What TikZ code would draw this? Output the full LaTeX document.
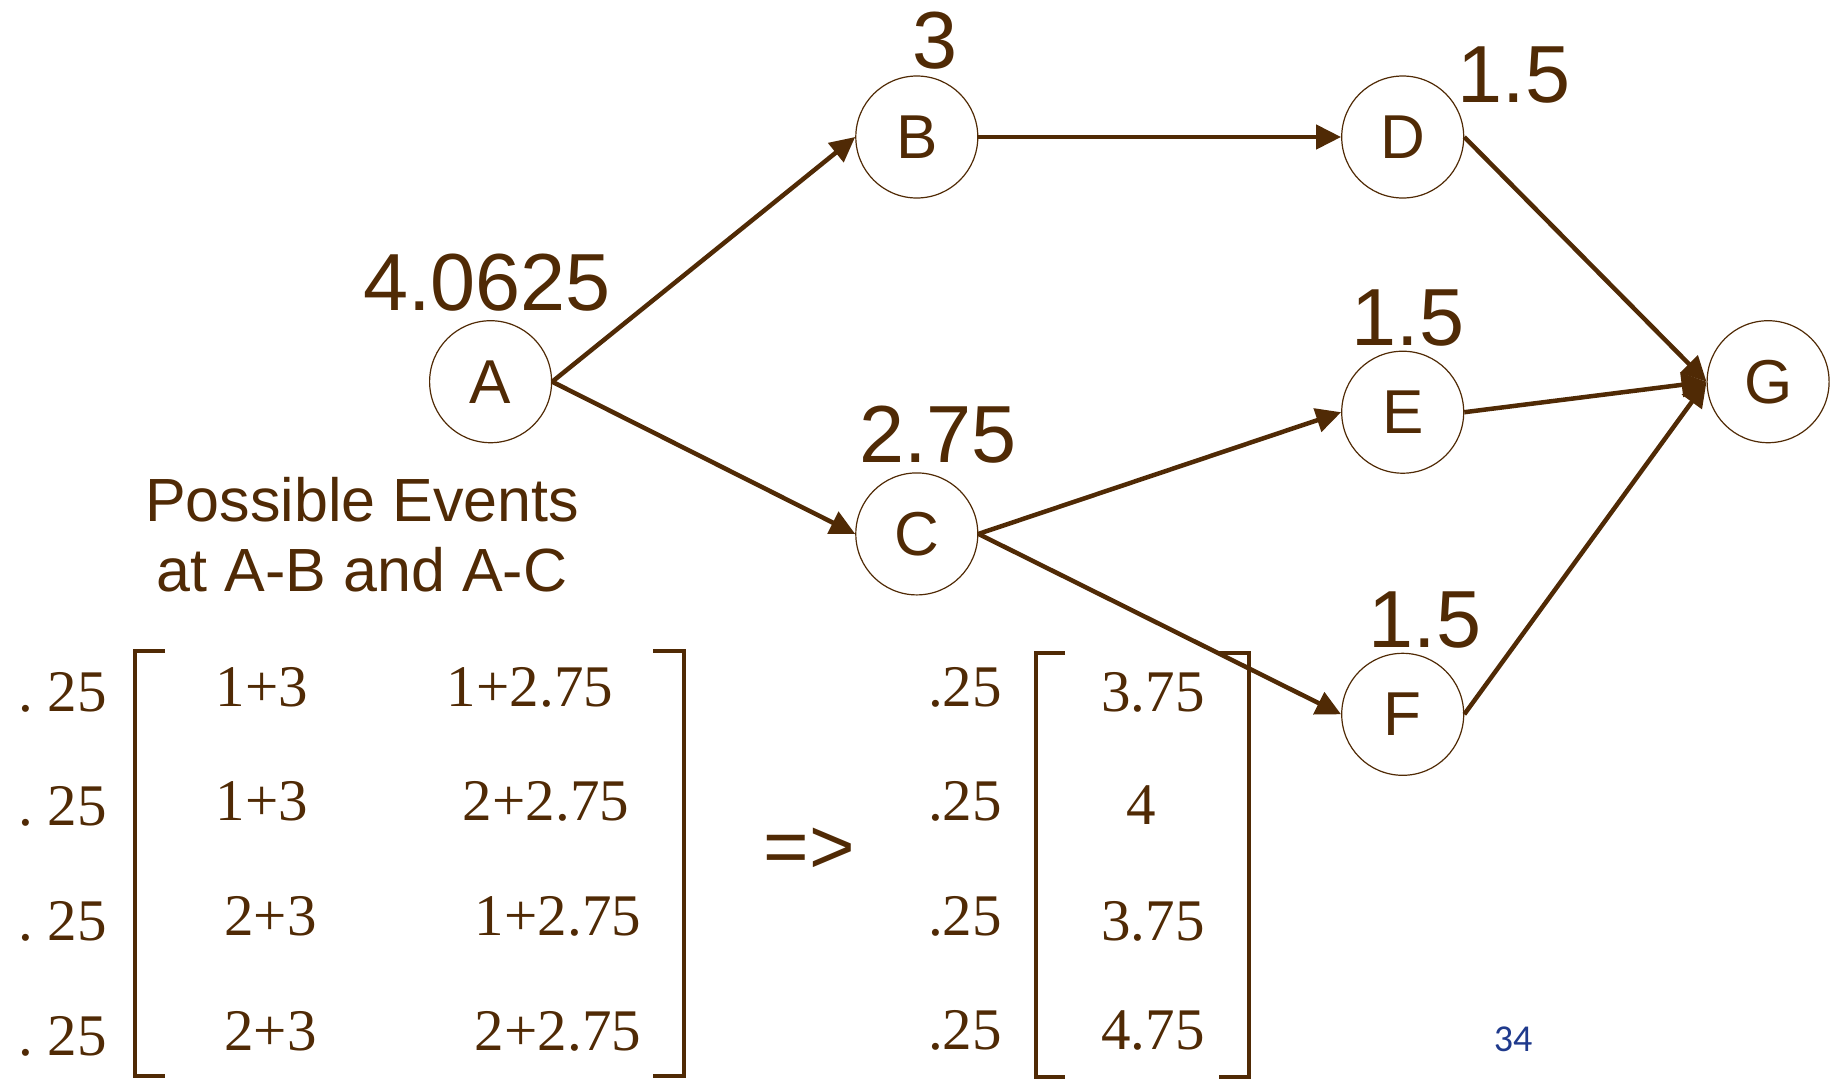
\documentclass[tikz,border=0pt]{standalone}
\usepackage{fontspec}
\usetikzlibrary{arrows.meta}
\newfontfamily\arialf{Liberation Sans}
\newfontfamily\timesf{Liberation Serif}
\newfontfamily\calf{Carlito}
\definecolor{brn}{RGB}{80,42,5}
\definecolor{pgblue}{RGB}{31,58,140}
\tikzset{
  circ/.style={circle, draw=brn, line width=1.2pt, minimum size=122pt, inner sep=0pt,
    text=brn, font=\arialf\fontsize{62}{62}\selectfont},
  lbl/.style={text=brn, inner sep=0pt, anchor=base, font=\arialf\fontsize{81}{81}\selectfont},
  evt/.style={text=brn, inner sep=0pt, anchor=base, font=\arialf\fontsize{61}{61}\selectfont},
  arr/.style={draw=brn, line width=4.5pt, -{Triangle[length=25pt,width=24pt]}},
  mat/.style={text=brn, inner sep=0pt, anchor=base, font=\timesf\fontsize{59}{59}\selectfont},
  matw/.style={mat, anchor=base west},
  brk/.style={draw=brn, line width=4.5pt}
}
\begin{document}
\begin{tikzpicture}[x=1pt,y=-1pt]
\useasboundingbox (0,0) rectangle (1836,1080);
% nodes
\node[circ] (A) at (490.6,381.7) {A};
\node[circ] (B) at (916.8,137) {B};
\node[circ] (C) at (916.8,533.9) {C};
\node[circ] (D) at (1402.7,137) {D};
\node[circ] (E) at (1402.7,412.2) {E};
\node[circ] (F) at (1402.7,714.3) {F};
\node[circ] (G) at (1768.1,381.7) {G};
% edges
\draw[arr] (A.east) -- (B.west);
\draw[arr] (A.east) -- (C.west);
\draw[arr] (B.east) -- (D.west);
\draw[arr] (C.east) -- (E.west);
\draw[arr] (C.east) -- (F.west);
\draw[arr] (D.east) -- (G.west);
\draw[arr] (E.east) -- (G.west);
\draw[arr] (F.east) -- (G.west);
% labels
\node[lbl] (lA) at (487,310) {4.0625};
\node[lbl] (lB) at (935,68) {3};
\node[lbl] (lC) at (938,462) {2.75};
\node[lbl] (lD) at (1514,102) {1.5};
\node[lbl] (lE) at (1408,345) {1.5};
\node[lbl] (lF) at (1425,647) {1.5};
% possible events
\node[evt] (ev1) at (362,521) {Possible Events};
\node[evt] (ev2) at (362,591) {at A-B and A-C};
% left matrix
\node[matw] (p1) at (18,711) {.\ 25};
\node[matw] (p2) at (18,825) {.\ 25};
\node[matw] (p3) at (18,940) {.\ 25};
\node[matw] (p4) at (18,1055) {.\ 25};
\node[mat] (m11) at (262,706) {1+3};
\node[mat] (m12) at (530,706) {1+2.75};
\node[mat] (m21) at (262,820) {1+3};
\node[mat] (m22) at (546,820) {2+2.75};
\node[mat] (m31) at (270.6,935) {2+3};
\node[mat] (m32) at (558,935) {1+2.75};
\node[mat] (m41) at (270.6,1050) {2+3};
\node[mat] (m42) at (558,1050) {2+2.75};
\draw[brk] (165,651) -- (135,651) -- (135,1076) -- (165,1076);
\draw[brk] (653,651) -- (684,651) -- (684,1076) -- (653,1076);
% implies
\node[text=brn, inner sep=0pt, anchor=base, font=\arialf\fontsize{78}{78}\selectfont] (imp) at (809,873) {=>};
% right matrix
\node[matw] (q1) at (928,706) {.25};
\node[matw] (q2) at (928,820) {.25};
\node[matw] (q3) at (928,935) {.25};
\node[matw] (q4) at (928,1049) {.25};
\node[mat] (r1) at (1153,711) {3.75};
\node[mat] (r2) at (1141,824) {4};
\node[mat] (r3) at (1153,940) {3.75};
\node[mat] (r4) at (1153,1049) {4.75};
\draw[brk] (1065,653) -- (1036,653) -- (1036,1077) -- (1065,1077);
\draw[brk] (1219,653) -- (1249,653) -- (1249,1077) -- (1219,1077);
% page number
\node[text=pgblue, inner sep=0pt, anchor=base, font=\calf\fontsize{38}{38}\selectfont] (pg) at (1513,1051) {34};
\end{tikzpicture}
\end{document}
